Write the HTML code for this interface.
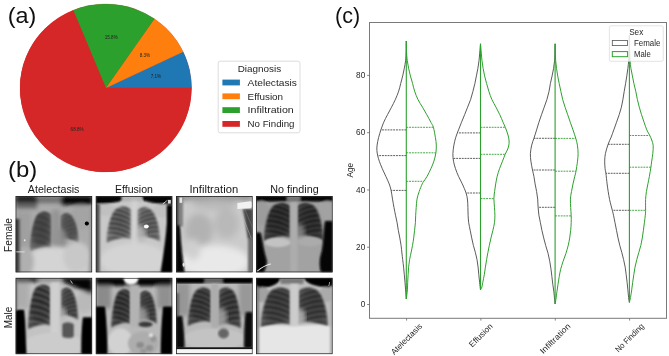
<!DOCTYPE html>
<html><head><meta charset="utf-8"><style>
html,body{margin:0;padding:0;background:#fff;}
body{width:669px;height:356px;position:relative;overflow:hidden;font-family:"Liberation Sans", sans-serif;}
</style></head><body>
<svg width="669" height="356" viewBox="0 0 669 356" style="position:absolute;left:0;top:0;will-change:transform;filter:blur(0.35px)" font-family='"Liberation Sans", sans-serif'>
<defs>
<filter id="bl" x="-5%" y="-5%" width="110%" height="110%"><feGaussianBlur stdDeviation="1.1"/></filter>
<filter id="bl2" x="-5%" y="-5%" width="110%" height="110%"><feGaussianBlur stdDeviation="0.6"/></filter>
</defs>
<ellipse cx="105.75" cy="88.0" rx="85.75" ry="84.0" fill="#d62728"/><path d="M105.75,88.00 L191.50,88.00 A85.75,84.0 0 0 0 183.11,51.76 Z" fill="#1f77b4" stroke="#1f77b4" stroke-width="0.3" stroke-linejoin="round"/><text x="155.93" y="78.45" font-size="4.6" text-anchor="middle" fill="#222">7.1%</text><path d="M105.75,88.00 L183.11,51.76 A85.75,84.0 0 0 0 154.39,18.82 Z" fill="#ff7f0e" stroke="#ff7f0e" stroke-width="0.3" stroke-linejoin="round"/><text x="144.87" y="56.87" font-size="4.6" text-anchor="middle" fill="#222">8.3%</text><path d="M105.75,88.00 L154.39,18.82 A85.75,84.0 0 0 0 73.18,10.29 Z" fill="#2ca02c" stroke="#2ca02c" stroke-width="0.3" stroke-linejoin="round"/><text x="111.24" y="39.49" font-size="4.6" text-anchor="middle" fill="#222">15.8%</text><path d="M105.75,88.00 L73.18,10.29 A85.75,84.0 0 1 0 191.50,88.00 Z" fill="#d62728" stroke="#d62728" stroke-width="0.3" stroke-linejoin="round"/><text x="77.10" y="131.46" font-size="4.6" text-anchor="middle" fill="#222">68.8%</text>
<rect x="218.2" y="61.2" width="81.8" height="71.6" rx="2" fill="#fff" stroke="#d4d4d4" stroke-width="0.8"/>
<text x="259.4" y="72.2" font-size="9.8" text-anchor="middle" fill="#262626" textLength="43.5" lengthAdjust="spacingAndGlyphs">Diagnosis</text>
<rect x="222.4" y="79.6" width="17.5" height="5.8" fill="#1f77b4"/>
<rect x="222.4" y="93.4" width="17.5" height="5.8" fill="#ff7f0e"/>
<rect x="222.4" y="107.2" width="17.5" height="5.8" fill="#2ca02c"/>
<rect x="222.4" y="121.0" width="17.5" height="5.8" fill="#d62728"/>
<text x="247.6" y="85.7" font-size="9.8" fill="#262626" textLength="49.3" lengthAdjust="spacingAndGlyphs">Atelectasis</text>
<text x="247.6" y="99.5" font-size="9.8" fill="#262626" textLength="35.5" lengthAdjust="spacingAndGlyphs">Effusion</text>
<text x="247.6" y="113.3" font-size="9.8" fill="#262626" textLength="46.2" lengthAdjust="spacingAndGlyphs">Infiltration</text>
<text x="247.6" y="127.1" font-size="9.8" fill="#262626" textLength="46.9" lengthAdjust="spacingAndGlyphs">No Finding</text>
<text x="7.8" y="23.4" font-size="21.5" fill="#111" textLength="28.6" lengthAdjust="spacingAndGlyphs">(a)</text>
<text x="8.1" y="176.6" font-size="21.5" fill="#111" textLength="29.2" lengthAdjust="spacingAndGlyphs">(b)</text>
<text x="335" y="23.4" font-size="21.5" fill="#111">(c)</text>
<text x="53.65" y="192.8" font-size="10.6" text-anchor="middle" fill="#1a1a1a" textLength="51.6" lengthAdjust="spacingAndGlyphs">Atelectasis</text>
<text x="133.95" y="192.8" font-size="10.6" text-anchor="middle" fill="#1a1a1a" textLength="38" lengthAdjust="spacingAndGlyphs">Effusion</text>
<text x="213.8" y="192.8" font-size="10.6" text-anchor="middle" fill="#1a1a1a" textLength="48.7" lengthAdjust="spacingAndGlyphs">Infiltration</text>
<text x="294.4" y="192.8" font-size="10.6" text-anchor="middle" fill="#1a1a1a" textLength="48.5" lengthAdjust="spacingAndGlyphs">No finding</text>
<text transform="translate(12.2,235) rotate(-90)" font-size="10.3" text-anchor="middle" fill="#1a1a1a" textLength="34" lengthAdjust="spacingAndGlyphs">Female</text>
<text transform="translate(12.2,317.4) rotate(-90)" font-size="10.3" text-anchor="middle" fill="#1a1a1a" textLength="21.5" lengthAdjust="spacingAndGlyphs">Male</text>
<svg x="15.5" y="196.0" width="76.7" height="76.4" viewBox="0 0 100 100" preserveAspectRatio="none"><defs><filter id="xf00_0" x="-10%" y="-10%" width="120%" height="120%"><feGaussianBlur stdDeviation="0.7"/></filter><filter id="xf00_1" x="-10%" y="-10%" width="120%" height="120%"><feGaussianBlur stdDeviation="1.6"/></filter><filter id="xf00_2" x="-10%" y="-10%" width="120%" height="120%"><feGaussianBlur stdDeviation="2.8"/></filter><filter id="xf00_3" x="-10%" y="-10%" width="120%" height="120%"><feGaussianBlur stdDeviation="4.0"/></filter><filter id="xf00_gm" x="0" y="0" width="100%" height="100%" color-interpolation-filters="sRGB"><feComponentTransfer><feFuncR type="gamma" amplitude="1" exponent="1.3" offset="0"/><feFuncG type="gamma" amplitude="1" exponent="1.3" offset="0"/><feFuncB type="gamma" amplitude="1" exponent="1.3" offset="0"/></feComponentTransfer></filter></defs><g filter="url(#xf00_gm)"><rect x="-5" y="-5" width="110" height="110" fill="rgb(188,188,188)" fill-opacity="1"/><g filter="url(#xf00_2)"><rect x="0" y="0" width="100" height="8" fill="rgb(35,35,35)" fill-opacity="1"/><rect x="60" y="0" width="40" height="11" fill="rgb(14,14,14)" fill-opacity="1"/><rect x="28" y="0" width="32" height="7" fill="rgb(140,140,140)" fill-opacity="1"/><rect x="0" y="8" width="28" height="8" fill="rgb(120,120,120)" fill-opacity="1"/><ellipse cx="86" cy="28" rx="15" ry="16" fill="rgb(182,182,182)" fill-opacity="1"/><rect x="0" y="20" width="20" height="50" fill="rgb(178,178,178)" fill-opacity="1"/></g><g filter="url(#xf00_1)"><defs><radialGradient id="gl00" cx="0.55" cy="0.4" r="0.62"><stop offset="0" stop-color="rgb(83,83,83)"/><stop offset="0.65" stop-color="rgb(92,92,92)"/><stop offset="1" stop-color="rgb(122,122,122)"/></radialGradient><radialGradient id="gr00" cx="0.55" cy="0.4" r="0.62"><stop offset="0" stop-color="rgb(93,93,93)"/><stop offset="0.65" stop-color="rgb(102,102,102)"/><stop offset="1" stop-color="rgb(132,132,132)"/></radialGradient><clipPath id="cl00"><path d="M47,25 C41.4,18 30.759999999999998,18 25.72,29 C21.240000000000002,40.519999999999996 18.16,62.12 19,74 C28.799999999999997,68 40.0,66 47,69 Z"/></clipPath><clipPath id="cr00"><path d="M58,27 C62.8,20 71.92,20 76.24,31 C80.08,37.2 82.72,53.2 82,62 C73.6,56 64.0,54 58,57 Z"/></clipPath></defs><path d="M47,25 C41.4,18 30.759999999999998,18 25.72,29 C21.240000000000002,40.519999999999996 18.16,62.12 19,74 C28.799999999999997,68 40.0,66 47,69 Z" fill="url(#gl00)"/><path d="M58,27 C62.8,20 71.92,20 76.24,31 C80.08,37.2 82.72,53.2 82,62 C73.6,56 64.0,54 58,57 Z" fill="url(#gr00)"/><g clip-path="url(#cl00)"><path d="M17,22.0 Q31.4,18.0 49,31.0" stroke="rgb(190,190,190)" stroke-opacity="0.16" stroke-width="2.2" fill="none"/><path d="M17,30.4 Q31.4,26.4 49,39.4" stroke="rgb(190,190,190)" stroke-opacity="0.16" stroke-width="2.2" fill="none"/><path d="M17,38.8 Q31.4,34.8 49,47.8" stroke="rgb(190,190,190)" stroke-opacity="0.16" stroke-width="2.2" fill="none"/><path d="M17,47.2 Q31.4,43.2 49,56.2" stroke="rgb(190,190,190)" stroke-opacity="0.16" stroke-width="2.2" fill="none"/><path d="M17,55.6 Q31.4,51.6 49,64.6" stroke="rgb(190,190,190)" stroke-opacity="0.16" stroke-width="2.2" fill="none"/><path d="M17,64.0 Q31.4,60.0 49,73.0" stroke="rgb(190,190,190)" stroke-opacity="0.16" stroke-width="2.2" fill="none"/></g><g clip-path="url(#cr00)"><path d="M84,24.0 Q71.4,20.0 56,33.0" stroke="rgb(190,190,190)" stroke-opacity="0.16" stroke-width="2.2" fill="none"/><path d="M84,29.6 Q71.4,25.6 56,38.6" stroke="rgb(190,190,190)" stroke-opacity="0.16" stroke-width="2.2" fill="none"/><path d="M84,35.2 Q71.4,31.200000000000003 56,44.2" stroke="rgb(190,190,190)" stroke-opacity="0.16" stroke-width="2.2" fill="none"/><path d="M84,40.8 Q71.4,36.8 56,49.8" stroke="rgb(190,190,190)" stroke-opacity="0.16" stroke-width="2.2" fill="none"/><path d="M84,46.4 Q71.4,42.4 56,55.4" stroke="rgb(190,190,190)" stroke-opacity="0.16" stroke-width="2.2" fill="none"/><path d="M84,52.0 Q71.4,48.0 56,61.0" stroke="rgb(190,190,190)" stroke-opacity="0.16" stroke-width="2.2" fill="none"/></g></g><g filter="url(#xf00_2)"><ellipse cx="58" cy="56" rx="9" ry="14" fill="rgb(160,160,160)" fill-opacity="0.85"/></g><g filter="url(#xf00_2)"><rect x="47" y="18" width="11" height="48" fill="rgb(168,168,168)" fill-opacity="1"/><ellipse cx="50" cy="92" rx="46" ry="26" fill="rgb(222,222,222)" fill-opacity="1"/><ellipse cx="80" cy="80" rx="18" ry="20" fill="rgb(212,212,212)" fill-opacity="1"/><ellipse cx="12" cy="86" rx="12" ry="20" fill="rgb(192,192,192)" fill-opacity="1"/></g><g filter="url(#xf00_1)"><rect x="0" y="30" width="3" height="70" fill="rgb(30,30,30)" fill-opacity="1"/><rect x="3" y="30" width="3" height="70" fill="rgb(120,120,120)" fill-opacity="1"/><rect x="96.5" y="14" width="3.5" height="86" fill="rgb(172,172,172)" fill-opacity="1"/></g><g filter="url(#xf00_0)"><ellipse cx="93" cy="36" rx="2.6" ry="2.6" fill="rgb(0,0,0)" fill-opacity="1"/><ellipse cx="12" cy="58" rx="1.2" ry="1.5" fill="rgb(235,235,235)" fill-opacity="1"/><rect x="0" y="72.5" width="12" height="1.3" fill="rgb(230,230,230)" fill-opacity="1"/></g></g><rect x="0.5" y="0.5" width="99" height="99" fill="none" stroke="#222" stroke-width="1.1"/></svg><svg x="95.7" y="196.0" width="76.7" height="76.4" viewBox="0 0 100 100" preserveAspectRatio="none"><defs><filter id="xf01_0" x="-10%" y="-10%" width="120%" height="120%"><feGaussianBlur stdDeviation="0.7"/></filter><filter id="xf01_1" x="-10%" y="-10%" width="120%" height="120%"><feGaussianBlur stdDeviation="1.6"/></filter><filter id="xf01_2" x="-10%" y="-10%" width="120%" height="120%"><feGaussianBlur stdDeviation="2.8"/></filter><filter id="xf01_3" x="-10%" y="-10%" width="120%" height="120%"><feGaussianBlur stdDeviation="4.0"/></filter><filter id="xf01_gm" x="0" y="0" width="100%" height="100%" color-interpolation-filters="sRGB"><feComponentTransfer><feFuncR type="gamma" amplitude="1" exponent="1.3" offset="0"/><feFuncG type="gamma" amplitude="1" exponent="1.3" offset="0"/><feFuncB type="gamma" amplitude="1" exponent="1.3" offset="0"/></feComponentTransfer></filter></defs><g filter="url(#xf01_gm)"><rect x="-5" y="-5" width="110" height="110" fill="rgb(212,212,212)" fill-opacity="1"/><g filter="url(#xf01_1)"><path d="M0,0 H100 V13 C90,12 75,9 62,6 L60,0 L38,0 L34,6 C25,9 10,11 0,10 Z" fill="rgb(8,8,8)" fill-opacity="1"/><rect x="34" y="0" width="26" height="7" fill="rgb(195,195,195)" fill-opacity="1"/><ellipse cx="12" cy="18" rx="14" ry="8" fill="rgb(205,205,205)" fill-opacity="1"/><ellipse cx="88" cy="19" rx="14" ry="9" fill="rgb(205,205,205)" fill-opacity="1"/></g><g filter="url(#xf01_1)"><defs><radialGradient id="gl01" cx="0.55" cy="0.4" r="0.62"><stop offset="0" stop-color="rgb(81,81,81)"/><stop offset="0.65" stop-color="rgb(92,92,92)"/><stop offset="1" stop-color="rgb(127,127,127)"/></radialGradient><radialGradient id="gr01" cx="0.55" cy="0.4" r="0.62"><stop offset="0" stop-color="rgb(85,85,85)"/><stop offset="0.65" stop-color="rgb(96,96,96)"/><stop offset="1" stop-color="rgb(131,131,131)"/></radialGradient><clipPath id="cl01"><path d="M47,18 C40.4,11 27.86,11 21.92,22 C16.64,31.62 13.01,51.22 14,62 C25.549999999999997,56 38.75,54 47,57 Z"/></clipPath><clipPath id="cr01"><path d="M53,19 C59.2,12 70.98,12 76.56,23 C81.52,31.48 84.93,49.88 84,60 C73.15,54 60.75,52 53,55 Z"/></clipPath></defs><path d="M47,18 C40.4,11 27.86,11 21.92,22 C16.64,31.62 13.01,51.22 14,62 C25.549999999999997,56 38.75,54 47,57 Z" fill="url(#gl01)"/><path d="M53,19 C59.2,12 70.98,12 76.56,23 C81.52,31.48 84.93,49.88 84,60 C73.15,54 60.75,52 53,55 Z" fill="url(#gr01)"/><g clip-path="url(#cl01)"><path d="M12,15.0 Q28.650000000000002,11.0 49,24.0" stroke="rgb(215,215,215)" stroke-opacity="0.42" stroke-width="2.4" fill="none"/><path d="M12,21.166666666666668 Q28.650000000000002,17.166666666666668 49,30.166666666666668" stroke="rgb(215,215,215)" stroke-opacity="0.42" stroke-width="2.4" fill="none"/><path d="M12,27.333333333333336 Q28.650000000000002,23.333333333333336 49,36.333333333333336" stroke="rgb(215,215,215)" stroke-opacity="0.42" stroke-width="2.4" fill="none"/><path d="M12,33.5 Q28.650000000000002,29.5 49,42.5" stroke="rgb(215,215,215)" stroke-opacity="0.42" stroke-width="2.4" fill="none"/><path d="M12,39.66666666666667 Q28.650000000000002,35.66666666666667 49,48.66666666666667" stroke="rgb(215,215,215)" stroke-opacity="0.42" stroke-width="2.4" fill="none"/><path d="M12,45.83333333333333 Q28.650000000000002,41.83333333333333 49,54.83333333333333" stroke="rgb(215,215,215)" stroke-opacity="0.42" stroke-width="2.4" fill="none"/><path d="M12,52.0 Q28.650000000000002,48.0 49,61.0" stroke="rgb(215,215,215)" stroke-opacity="0.42" stroke-width="2.4" fill="none"/></g><g clip-path="url(#cr01)"><path d="M86,16.0 Q70.25,12.0 51,25.0" stroke="rgb(215,215,215)" stroke-opacity="0.42" stroke-width="2.4" fill="none"/><path d="M86,21.666666666666668 Q70.25,17.666666666666668 51,30.666666666666668" stroke="rgb(215,215,215)" stroke-opacity="0.42" stroke-width="2.4" fill="none"/><path d="M86,27.333333333333336 Q70.25,23.333333333333336 51,36.333333333333336" stroke="rgb(215,215,215)" stroke-opacity="0.42" stroke-width="2.4" fill="none"/><path d="M86,33.0 Q70.25,29.0 51,42.0" stroke="rgb(215,215,215)" stroke-opacity="0.42" stroke-width="2.4" fill="none"/><path d="M86,38.66666666666667 Q70.25,34.66666666666667 51,47.66666666666667" stroke="rgb(215,215,215)" stroke-opacity="0.42" stroke-width="2.4" fill="none"/><path d="M86,44.33333333333333 Q70.25,40.33333333333333 51,53.33333333333333" stroke="rgb(215,215,215)" stroke-opacity="0.42" stroke-width="2.4" fill="none"/><path d="M86,50.0 Q70.25,46.0 51,59.0" stroke="rgb(215,215,215)" stroke-opacity="0.42" stroke-width="2.4" fill="none"/></g><path d="M47,18 C40.4,11 27.86,11 21.92,22 C16.64,31.62 13.01,51.22 14,62 C25.549999999999997,56 38.75,54 47,57 Z" fill="none" stroke="rgb(215,215,215)" stroke-width="1.6" stroke-opacity="0.6"/><path d="M53,19 C59.2,12 70.98,12 76.56,23 C81.52,31.48 84.93,49.88 84,60 C73.15,54 60.75,52 53,55 Z" fill="none" stroke="rgb(215,215,215)" stroke-width="1.6" stroke-opacity="0.6"/></g><g filter="url(#xf01_2)"><ellipse cx="58" cy="50" rx="8" ry="12" fill="rgb(200,200,200)" fill-opacity="0.8"/></g><g filter="url(#xf01_2)"><rect x="47" y="6" width="7" height="94" fill="rgb(222,222,222)" fill-opacity="1"/><ellipse cx="50" cy="84" rx="44" ry="22" fill="rgb(222,222,222)" fill-opacity="1"/></g><g filter="url(#xf01_1)"><path d="M93,12 L100,12 L100,100 L85,100 C88,80 92,55 93,35 Z" fill="rgb(6,6,6)" fill-opacity="1"/><rect x="0" y="10" width="2.5" height="90" fill="rgb(25,25,25)" fill-opacity="1"/><rect x="2.5" y="10" width="3" height="90" fill="rgb(125,125,125)" fill-opacity="1"/></g><g filter="url(#xf01_0)"><ellipse cx="66" cy="40" rx="3.2" ry="2.6" fill="rgb(250,250,250)" fill-opacity="1"/><path d="M88,10 L93,6" fill="none" stroke="rgb(235,235,235)" stroke-width="1.2" stroke-opacity="1" stroke-linecap="round"/><rect x="94" y="5" width="4" height="5" fill="rgb(225,225,225)" fill-opacity="1"/></g></g><rect x="0.5" y="0.5" width="99" height="99" fill="none" stroke="#222" stroke-width="1.1"/></svg><svg x="176.0" y="196.0" width="76.7" height="76.4" viewBox="0 0 100 100" preserveAspectRatio="none"><defs><filter id="xf02_0" x="-10%" y="-10%" width="120%" height="120%"><feGaussianBlur stdDeviation="0.7"/></filter><filter id="xf02_1" x="-10%" y="-10%" width="120%" height="120%"><feGaussianBlur stdDeviation="1.6"/></filter><filter id="xf02_2" x="-10%" y="-10%" width="120%" height="120%"><feGaussianBlur stdDeviation="2.8"/></filter><filter id="xf02_3" x="-10%" y="-10%" width="120%" height="120%"><feGaussianBlur stdDeviation="4.0"/></filter><filter id="xf02_gm" x="0" y="0" width="100%" height="100%" color-interpolation-filters="sRGB"><feComponentTransfer><feFuncR type="gamma" amplitude="1" exponent="1.3" offset="0"/><feFuncG type="gamma" amplitude="1" exponent="1.3" offset="0"/><feFuncB type="gamma" amplitude="1" exponent="1.3" offset="0"/></feComponentTransfer></filter></defs><g filter="url(#xf02_gm)"><rect x="-5" y="-5" width="110" height="110" fill="rgb(214,214,214)" fill-opacity="1"/><g filter="url(#xf02_3)"><rect x="0" y="0" width="100" height="3" fill="rgb(70,70,70)" fill-opacity="1"/><ellipse cx="30" cy="45" rx="18" ry="22" fill="rgb(194,194,194)" fill-opacity="1"/><ellipse cx="66" cy="36" rx="16" ry="20" fill="rgb(200,200,200)" fill-opacity="1"/><ellipse cx="50" cy="10" rx="30" ry="8" fill="rgb(200,200,200)" fill-opacity="1"/><ellipse cx="50" cy="86" rx="46" ry="22" fill="rgb(238,238,238)" fill-opacity="1"/><ellipse cx="22" cy="70" rx="10" ry="14" fill="rgb(218,218,218)" fill-opacity="1"/></g><g filter="url(#xf02_1)"><rect x="0" y="0" width="3" height="100" fill="rgb(35,35,35)" fill-opacity="1"/><rect x="3" y="0" width="6" height="40" fill="rgb(150,150,150)" fill-opacity="1"/><path d="M0,38 L5,38 C6,60 8,80 11,100 L0,100 Z" fill="rgb(12,12,12)" fill-opacity="1"/></g><g filter="url(#xf02_1)"><path d="M87,17 L100,17 L100,58 L94,58 C92,45 90,30 87,17 Z" fill="rgb(95,95,95)" fill-opacity="1"/><rect x="94" y="55" width="6" height="45" fill="rgb(130,130,130)" fill-opacity="1"/></g><g filter="url(#xf02_0)"><rect x="4.5" y="2" width="3.5" height="7" fill="rgb(235,235,235)" fill-opacity="1"/><path d="M80,9 L97,7 C100,7 100,16 97,16 L80,17 Z" fill="rgb(245,245,245)" fill-opacity="1"/><path d="M84,19 L98,55" fill="none" stroke="rgb(200,200,200)" stroke-width="0.9" stroke-opacity="0.8" stroke-linecap="round"/><path d="M90,18 L100,42" fill="none" stroke="rgb(185,185,185)" stroke-width="0.7" stroke-opacity="0.6" stroke-linecap="round"/><ellipse cx="10" cy="90" rx="1.5" ry="2.5" fill="rgb(235,235,235)" fill-opacity="1"/></g></g><rect x="0.5" y="0.5" width="99" height="99" fill="none" stroke="#222" stroke-width="1.1"/></svg><svg x="256.0" y="196.0" width="76.7" height="76.4" viewBox="0 0 100 100" preserveAspectRatio="none"><defs><filter id="xf03_0" x="-10%" y="-10%" width="120%" height="120%"><feGaussianBlur stdDeviation="0.7"/></filter><filter id="xf03_1" x="-10%" y="-10%" width="120%" height="120%"><feGaussianBlur stdDeviation="1.6"/></filter><filter id="xf03_2" x="-10%" y="-10%" width="120%" height="120%"><feGaussianBlur stdDeviation="2.8"/></filter><filter id="xf03_3" x="-10%" y="-10%" width="120%" height="120%"><feGaussianBlur stdDeviation="4.0"/></filter><filter id="xf03_gm" x="0" y="0" width="100%" height="100%" color-interpolation-filters="sRGB"><feComponentTransfer><feFuncR type="gamma" amplitude="1" exponent="1.3" offset="0"/><feFuncG type="gamma" amplitude="1" exponent="1.3" offset="0"/><feFuncB type="gamma" amplitude="1" exponent="1.3" offset="0"/></feComponentTransfer></filter></defs><g filter="url(#xf03_gm)"><rect x="-5" y="-5" width="110" height="110" fill="rgb(180,180,180)" fill-opacity="1"/><g filter="url(#xf03_1)"><rect x="0" y="0" width="100" height="7" fill="rgb(8,8,8)" fill-opacity="1"/><rect x="40" y="0" width="18" height="8" fill="rgb(140,140,140)" fill-opacity="1"/><ellipse cx="7" cy="22" rx="10" ry="16" fill="rgb(175,175,175)" fill-opacity="1"/><ellipse cx="93" cy="20" rx="10" ry="14" fill="rgb(180,180,180)" fill-opacity="1"/></g><g filter="url(#xf03_1)"><defs><radialGradient id="gl03" cx="0.55" cy="0.4" r="0.62"><stop offset="0" stop-color="rgb(43,43,43)"/><stop offset="0.65" stop-color="rgb(52,52,52)"/><stop offset="1" stop-color="rgb(82,82,82)"/></radialGradient><radialGradient id="gr03" cx="0.55" cy="0.4" r="0.62"><stop offset="0" stop-color="rgb(45,45,45)"/><stop offset="0.65" stop-color="rgb(54,54,54)"/><stop offset="1" stop-color="rgb(84,84,84)"/></radialGradient><clipPath id="cl03"><path d="M45,13 C38.0,6 24.7,6 18.4,17 C12.8,27.76 8.95,48.56 10,60 C22.25,54 36.25,52 45,55 Z"/></clipPath><clipPath id="cr03"><path d="M53,13 C60.0,6 73.3,6 79.6,17 C85.2,27.38 89.05,47.78 88,59 C75.75,53 61.75,51 53,54 Z"/></clipPath></defs><path d="M45,13 C38.0,6 24.7,6 18.4,17 C12.8,27.76 8.95,48.56 10,60 C22.25,54 36.25,52 45,55 Z" fill="url(#gl03)"/><path d="M53,13 C60.0,6 73.3,6 79.6,17 C85.2,27.38 89.05,47.78 88,59 C75.75,53 61.75,51 53,54 Z" fill="url(#gr03)"/><g clip-path="url(#cl03)"><path d="M8,10.0 Q25.55,6.0 47,19.0" stroke="rgb(170,170,170)" stroke-opacity="0.35" stroke-width="2.2" fill="none"/><path d="M8,16.666666666666668 Q25.55,12.666666666666668 47,25.666666666666668" stroke="rgb(170,170,170)" stroke-opacity="0.35" stroke-width="2.2" fill="none"/><path d="M8,23.333333333333336 Q25.55,19.333333333333336 47,32.333333333333336" stroke="rgb(170,170,170)" stroke-opacity="0.35" stroke-width="2.2" fill="none"/><path d="M8,30.0 Q25.55,26.0 47,39.0" stroke="rgb(170,170,170)" stroke-opacity="0.35" stroke-width="2.2" fill="none"/><path d="M8,36.66666666666667 Q25.55,32.66666666666667 47,45.66666666666667" stroke="rgb(170,170,170)" stroke-opacity="0.35" stroke-width="2.2" fill="none"/><path d="M8,43.333333333333336 Q25.55,39.333333333333336 47,52.333333333333336" stroke="rgb(170,170,170)" stroke-opacity="0.35" stroke-width="2.2" fill="none"/><path d="M8,50.0 Q25.55,46.0 47,59.0" stroke="rgb(170,170,170)" stroke-opacity="0.35" stroke-width="2.2" fill="none"/></g><g clip-path="url(#cr03)"><path d="M90,10.0 Q72.45,6.0 51,19.0" stroke="rgb(170,170,170)" stroke-opacity="0.35" stroke-width="2.2" fill="none"/><path d="M90,16.5 Q72.45,12.5 51,25.5" stroke="rgb(170,170,170)" stroke-opacity="0.35" stroke-width="2.2" fill="none"/><path d="M90,23.0 Q72.45,19.0 51,32.0" stroke="rgb(170,170,170)" stroke-opacity="0.35" stroke-width="2.2" fill="none"/><path d="M90,29.5 Q72.45,25.5 51,38.5" stroke="rgb(170,170,170)" stroke-opacity="0.35" stroke-width="2.2" fill="none"/><path d="M90,36.0 Q72.45,32.0 51,45.0" stroke="rgb(170,170,170)" stroke-opacity="0.35" stroke-width="2.2" fill="none"/><path d="M90,42.5 Q72.45,38.5 51,51.5" stroke="rgb(170,170,170)" stroke-opacity="0.35" stroke-width="2.2" fill="none"/><path d="M90,49.0 Q72.45,45.0 51,58.0" stroke="rgb(170,170,170)" stroke-opacity="0.35" stroke-width="2.2" fill="none"/></g><path d="M45,13 C38.0,6 24.7,6 18.4,17 C12.8,27.76 8.95,48.56 10,60 C22.25,54 36.25,52 45,55 Z" fill="none" stroke="rgb(190,190,190)" stroke-width="1.6" stroke-opacity="0.6"/><path d="M53,13 C60.0,6 73.3,6 79.6,17 C85.2,27.38 89.05,47.78 88,59 C75.75,53 61.75,51 53,54 Z" fill="none" stroke="rgb(190,190,190)" stroke-width="1.6" stroke-opacity="0.6"/></g><g filter="url(#xf03_2)"><ellipse cx="57" cy="48" rx="7" ry="12" fill="rgb(170,170,170)" fill-opacity="0.7"/></g><g filter="url(#xf03_1)"><rect x="45" y="8" width="9" height="92" fill="rgb(190,190,190)" fill-opacity="1"/><ellipse cx="28" cy="61" rx="17" ry="6" fill="rgb(208,208,208)" fill-opacity="1"/><ellipse cx="70" cy="60" rx="16" ry="6" fill="rgb(188,188,188)" fill-opacity="1"/></g><g filter="url(#xf03_1)"><path d="M0,48 L6,48 C9,62 10,72 14,85 C14,92 11,97 10,100 L0,100 Z" fill="rgb(8,8,8)" fill-opacity="1"/><path d="M100,33 L90,33 C88,50 88,62 86,72 C83,82 82,90 85,100 L100,100 Z" fill="rgb(8,8,8)" fill-opacity="1"/></g><g filter="url(#xf03_0)"><path d="M2,98 C8,93 14,90 19,89" fill="none" stroke="rgb(240,240,240)" stroke-width="1.4" stroke-opacity="1" stroke-linecap="round"/></g></g><rect x="0.5" y="0.5" width="99" height="99" fill="none" stroke="#222" stroke-width="1.1"/></svg><svg x="15.5" y="277.8" width="76.7" height="76.4" viewBox="0 0 100 100" preserveAspectRatio="none"><defs><filter id="xf10_0" x="-10%" y="-10%" width="120%" height="120%"><feGaussianBlur stdDeviation="0.7"/></filter><filter id="xf10_1" x="-10%" y="-10%" width="120%" height="120%"><feGaussianBlur stdDeviation="1.6"/></filter><filter id="xf10_2" x="-10%" y="-10%" width="120%" height="120%"><feGaussianBlur stdDeviation="2.8"/></filter><filter id="xf10_3" x="-10%" y="-10%" width="120%" height="120%"><feGaussianBlur stdDeviation="4.0"/></filter><filter id="xf10_gm" x="0" y="0" width="100%" height="100%" color-interpolation-filters="sRGB"><feComponentTransfer><feFuncR type="gamma" amplitude="1" exponent="1.3" offset="0"/><feFuncG type="gamma" amplitude="1" exponent="1.3" offset="0"/><feFuncB type="gamma" amplitude="1" exponent="1.3" offset="0"/></feComponentTransfer></filter></defs><g filter="url(#xf10_gm)"><rect x="-5" y="-5" width="110" height="110" fill="rgb(208,208,208)" fill-opacity="1"/><g filter="url(#xf10_2)"><rect x="0" y="0" width="30" height="5" fill="rgb(10,10,10)" fill-opacity="1"/><path d="M58,0 L100,0 L100,22 C90,18 75,10 62,5 Z" fill="rgb(8,8,8)" fill-opacity="1"/><rect x="30" y="0" width="28" height="5" fill="rgb(150,150,150)" fill-opacity="1"/><rect x="0" y="5" width="18" height="36" fill="rgb(190,190,190)" fill-opacity="1"/><ellipse cx="90" cy="32" rx="12" ry="14" fill="rgb(200,200,200)" fill-opacity="1"/></g><g filter="url(#xf10_1)"><defs><radialGradient id="gl10" cx="0.55" cy="0.4" r="0.62"><stop offset="0" stop-color="rgb(61,61,61)"/><stop offset="0.65" stop-color="rgb(70,70,70)"/><stop offset="1" stop-color="rgb(100,100,100)"/></radialGradient><radialGradient id="gr10" cx="0.55" cy="0.4" r="0.62"><stop offset="0" stop-color="rgb(65,65,65)"/><stop offset="0.65" stop-color="rgb(74,74,74)"/><stop offset="1" stop-color="rgb(104,104,104)"/></radialGradient><clipPath id="cl10"><path d="M46,13 C40.0,6 28.6,6 23.2,17 C18.4,30.8 15.1,54.8 16,68 C26.5,62 38.5,60 46,63 Z"/></clipPath><clipPath id="cr10"><path d="M59,17 C63.6,10 72.34,10 76.48,21 C80.16,28.72 82.69,46.32 82,56 C73.95,50 64.75,48 59,51 Z"/></clipPath></defs><path d="M46,13 C40.0,6 28.6,6 23.2,17 C18.4,30.8 15.1,54.8 16,68 C26.5,62 38.5,60 46,63 Z" fill="url(#gl10)"/><path d="M59,17 C63.6,10 72.34,10 76.48,21 C80.16,28.72 82.69,46.32 82,56 C73.95,50 64.75,48 59,51 Z" fill="url(#gr10)"/><g clip-path="url(#cl10)"><path d="M14,10.0 Q29.3,6.0 48,19.0" stroke="rgb(205,205,205)" stroke-opacity="0.35" stroke-width="2.2" fill="none"/><path d="M14,18.0 Q29.3,14.0 48,27.0" stroke="rgb(205,205,205)" stroke-opacity="0.35" stroke-width="2.2" fill="none"/><path d="M14,26.0 Q29.3,22.0 48,35.0" stroke="rgb(205,205,205)" stroke-opacity="0.35" stroke-width="2.2" fill="none"/><path d="M14,34.0 Q29.3,30.0 48,43.0" stroke="rgb(205,205,205)" stroke-opacity="0.35" stroke-width="2.2" fill="none"/><path d="M14,42.0 Q29.3,38.0 48,51.0" stroke="rgb(205,205,205)" stroke-opacity="0.35" stroke-width="2.2" fill="none"/><path d="M14,50.0 Q29.3,46.0 48,59.0" stroke="rgb(205,205,205)" stroke-opacity="0.35" stroke-width="2.2" fill="none"/><path d="M14,58.0 Q29.3,54.0 48,67.0" stroke="rgb(205,205,205)" stroke-opacity="0.35" stroke-width="2.2" fill="none"/></g><g clip-path="url(#cr10)"><path d="M84,14.0 Q71.85,10.0 57,23.0" stroke="rgb(205,205,205)" stroke-opacity="0.35" stroke-width="2.2" fill="none"/><path d="M84,19.333333333333332 Q71.85,15.333333333333332 57,28.333333333333332" stroke="rgb(205,205,205)" stroke-opacity="0.35" stroke-width="2.2" fill="none"/><path d="M84,24.666666666666664 Q71.85,20.666666666666664 57,33.666666666666664" stroke="rgb(205,205,205)" stroke-opacity="0.35" stroke-width="2.2" fill="none"/><path d="M84,30.0 Q71.85,26.0 57,39.0" stroke="rgb(205,205,205)" stroke-opacity="0.35" stroke-width="2.2" fill="none"/><path d="M84,35.33333333333333 Q71.85,31.33333333333333 57,44.33333333333333" stroke="rgb(205,205,205)" stroke-opacity="0.35" stroke-width="2.2" fill="none"/><path d="M84,40.66666666666667 Q71.85,36.66666666666667 57,49.66666666666667" stroke="rgb(205,205,205)" stroke-opacity="0.35" stroke-width="2.2" fill="none"/><path d="M84,46.0 Q71.85,42.0 57,55.0" stroke="rgb(205,205,205)" stroke-opacity="0.35" stroke-width="2.2" fill="none"/></g><path d="M46,13 C40.0,6 28.6,6 23.2,17 C18.4,30.8 15.1,54.8 16,68 C26.5,62 38.5,60 46,63 Z" fill="none" stroke="rgb(215,215,215)" stroke-width="1.6" stroke-opacity="0.6"/><path d="M59,17 C63.6,10 72.34,10 76.48,21 C80.16,28.72 82.69,46.32 82,56 C73.95,50 64.75,48 59,51 Z" fill="none" stroke="rgb(215,215,215)" stroke-width="1.6" stroke-opacity="0.6"/></g><g filter="url(#xf10_2)"><ellipse cx="61" cy="48" rx="6" ry="10" fill="rgb(200,200,200)" fill-opacity="0.7"/></g><g filter="url(#xf10_1)"><rect x="46" y="6" width="11" height="94" fill="rgb(218,218,218)" fill-opacity="1"/><ellipse cx="50" cy="88" rx="40" ry="16" fill="rgb(215,215,215)" fill-opacity="1"/></g><g filter="url(#xf10_1)"><path d="M60,62 C60,56 76,56 77,62 L77,76 C77,81 61,81 60,76 Z" fill="rgb(112,112,112)" fill-opacity="1"/><path d="M60,62 C60,56 76,56 77,62 L77,76 C77,81 61,81 60,76 Z" fill="none" stroke="rgb(225,225,225)" stroke-width="1.2"/></g><g filter="url(#xf10_1)"><path d="M0,42 L11,42 C13,60 13,80 14,100 L0,100 Z" fill="rgb(4,4,4)" fill-opacity="1"/><path d="M100,52 L88,52 C86,70 86,85 86,100 L100,100 Z" fill="rgb(4,4,4)" fill-opacity="1"/><rect x="0" y="0" width="2" height="42" fill="rgb(120,120,120)" fill-opacity="1"/></g><g filter="url(#xf10_0)"><path d="M72,4 L74,7" fill="none" stroke="rgb(240,240,240)" stroke-width="1.2" stroke-opacity="1" stroke-linecap="round"/></g></g><rect x="0.5" y="0.5" width="99" height="99" fill="none" stroke="#222" stroke-width="1.1"/></svg><svg x="95.7" y="277.8" width="76.7" height="76.4" viewBox="0 0 100 100" preserveAspectRatio="none"><defs><filter id="xf11_0" x="-10%" y="-10%" width="120%" height="120%"><feGaussianBlur stdDeviation="0.7"/></filter><filter id="xf11_1" x="-10%" y="-10%" width="120%" height="120%"><feGaussianBlur stdDeviation="1.6"/></filter><filter id="xf11_2" x="-10%" y="-10%" width="120%" height="120%"><feGaussianBlur stdDeviation="2.8"/></filter><filter id="xf11_3" x="-10%" y="-10%" width="120%" height="120%"><feGaussianBlur stdDeviation="4.0"/></filter><filter id="xf11_gm" x="0" y="0" width="100%" height="100%" color-interpolation-filters="sRGB"><feComponentTransfer><feFuncR type="gamma" amplitude="1" exponent="1.3" offset="0"/><feFuncG type="gamma" amplitude="1" exponent="1.3" offset="0"/><feFuncB type="gamma" amplitude="1" exponent="1.3" offset="0"/></feComponentTransfer></filter></defs><g filter="url(#xf11_gm)"><rect x="-5" y="-5" width="110" height="110" fill="rgb(200,200,200)" fill-opacity="1"/><g filter="url(#xf11_2)"><rect x="0" y="0" width="100" height="10" fill="rgb(6,6,6)" fill-opacity="1"/><rect x="42" y="8" width="10" height="8" fill="rgb(175,175,175)" fill-opacity="1"/><rect x="0" y="10" width="20" height="30" fill="rgb(160,160,160)" fill-opacity="1"/><rect x="80" y="10" width="20" height="30" fill="rgb(165,165,165)" fill-opacity="1"/></g><g filter="url(#xf11_1)"><ellipse cx="46" cy="1" rx="10" ry="8" fill="rgb(250,250,250)" fill-opacity="1"/></g><g filter="url(#xf11_1)"><defs><radialGradient id="gl11" cx="0.55" cy="0.4" r="0.62"><stop offset="0" stop-color="rgb(51,51,51)"/><stop offset="0.65" stop-color="rgb(60,60,60)"/><stop offset="1" stop-color="rgb(90,90,90)"/></radialGradient><radialGradient id="gr11" cx="0.55" cy="0.4" r="0.62"><stop offset="0" stop-color="rgb(57,57,57)"/><stop offset="0.65" stop-color="rgb(66,66,66)"/><stop offset="1" stop-color="rgb(96,96,96)"/></radialGradient><clipPath id="cl11"><path d="M46,19 C40.8,12 30.92,12 26.240000000000002,23 C22.08,33.760000000000005 19.22,54.56 20,66 C29.1,60 39.5,58 46,61 Z"/></clipPath><clipPath id="cr11"><path d="M57,21 C61.6,14 70.34,14 74.48,25 C78.16,33.1 80.69,51.1 80,61 C71.95,55 62.75,53 57,56 Z"/></clipPath></defs><path d="M46,19 C40.8,12 30.92,12 26.240000000000002,23 C22.08,33.760000000000005 19.22,54.56 20,66 C29.1,60 39.5,58 46,61 Z" fill="url(#gl11)"/><path d="M57,21 C61.6,14 70.34,14 74.48,25 C78.16,33.1 80.69,51.1 80,61 C71.95,55 62.75,53 57,56 Z" fill="url(#gr11)"/><g clip-path="url(#cl11)"><path d="M18,16.0 Q31.5,12.0 48,25.0" stroke="rgb(195,195,195)" stroke-opacity="0.35" stroke-width="2.2" fill="none"/><path d="M18,22.666666666666668 Q31.5,18.666666666666668 48,31.666666666666668" stroke="rgb(195,195,195)" stroke-opacity="0.35" stroke-width="2.2" fill="none"/><path d="M18,29.333333333333336 Q31.5,25.333333333333336 48,38.333333333333336" stroke="rgb(195,195,195)" stroke-opacity="0.35" stroke-width="2.2" fill="none"/><path d="M18,36.0 Q31.5,32.0 48,45.0" stroke="rgb(195,195,195)" stroke-opacity="0.35" stroke-width="2.2" fill="none"/><path d="M18,42.66666666666667 Q31.5,38.66666666666667 48,51.66666666666667" stroke="rgb(195,195,195)" stroke-opacity="0.35" stroke-width="2.2" fill="none"/><path d="M18,49.333333333333336 Q31.5,45.333333333333336 48,58.333333333333336" stroke="rgb(195,195,195)" stroke-opacity="0.35" stroke-width="2.2" fill="none"/><path d="M18,56.0 Q31.5,52.0 48,65.0" stroke="rgb(195,195,195)" stroke-opacity="0.35" stroke-width="2.2" fill="none"/></g><g clip-path="url(#cr11)"><path d="M82,18.0 Q69.85,14.0 55,27.0" stroke="rgb(195,195,195)" stroke-opacity="0.35" stroke-width="2.2" fill="none"/><path d="M82,23.5 Q69.85,19.5 55,32.5" stroke="rgb(195,195,195)" stroke-opacity="0.35" stroke-width="2.2" fill="none"/><path d="M82,29.0 Q69.85,25.0 55,38.0" stroke="rgb(195,195,195)" stroke-opacity="0.35" stroke-width="2.2" fill="none"/><path d="M82,34.5 Q69.85,30.5 55,43.5" stroke="rgb(195,195,195)" stroke-opacity="0.35" stroke-width="2.2" fill="none"/><path d="M82,40.0 Q69.85,36.0 55,49.0" stroke="rgb(195,195,195)" stroke-opacity="0.35" stroke-width="2.2" fill="none"/><path d="M82,45.5 Q69.85,41.5 55,54.5" stroke="rgb(195,195,195)" stroke-opacity="0.35" stroke-width="2.2" fill="none"/><path d="M82,51.0 Q69.85,47.0 55,60.0" stroke="rgb(195,195,195)" stroke-opacity="0.35" stroke-width="2.2" fill="none"/></g><path d="M46,19 C40.8,12 30.92,12 26.240000000000002,23 C22.08,33.760000000000005 19.22,54.56 20,66 C29.1,60 39.5,58 46,61 Z" fill="none" stroke="rgb(205,205,205)" stroke-width="1.6" stroke-opacity="0.6"/><path d="M57,21 C61.6,14 70.34,14 74.48,25 C78.16,33.1 80.69,51.1 80,61 C71.95,55 62.75,53 57,56 Z" fill="none" stroke="rgb(205,205,205)" stroke-width="1.6" stroke-opacity="0.6"/></g><g filter="url(#xf11_2)"><ellipse cx="60" cy="50" rx="8" ry="12" fill="rgb(180,180,180)" fill-opacity="0.8"/></g><g filter="url(#xf11_1)"><rect x="45" y="10" width="11" height="55" fill="rgb(195,195,195)" fill-opacity="1"/><ellipse cx="32" cy="84" rx="16" ry="18" fill="rgb(220,220,220)" fill-opacity="1"/><ellipse cx="62" cy="86" rx="20" ry="16" fill="rgb(190,190,190)" fill-opacity="1"/></g><g filter="url(#xf11_1)"><ellipse cx="65" cy="61" rx="9" ry="3.5" fill="rgb(80,80,80)" fill-opacity="1"/><ellipse cx="58" cy="88" rx="5" ry="4" fill="rgb(160,160,160)" fill-opacity="1"/><ellipse cx="70" cy="92" rx="5" ry="4" fill="rgb(165,165,165)" fill-opacity="1"/><ellipse cx="75" cy="80" rx="4" ry="4" fill="rgb(170,170,170)" fill-opacity="1"/><ellipse cx="62" cy="96" rx="4" ry="3" fill="rgb(170,170,170)" fill-opacity="1"/><ellipse cx="72" cy="75" rx="2.5" ry="2.5" fill="rgb(245,245,245)" fill-opacity="1"/></g><g filter="url(#xf11_1)"><path d="M0,38 L12,38 C14,60 15,80 15,100 L0,100 Z" fill="rgb(5,5,5)" fill-opacity="1"/><path d="M100,38 L88,38 C86,60 85,80 85,100 L100,100 Z" fill="rgb(5,5,5)" fill-opacity="1"/></g></g><rect x="0.5" y="0.5" width="99" height="99" fill="none" stroke="#222" stroke-width="1.1"/></svg><svg x="176.0" y="277.8" width="76.7" height="76.4" viewBox="0 0 100 100" preserveAspectRatio="none"><defs><filter id="xf12_0" x="-10%" y="-10%" width="120%" height="120%"><feGaussianBlur stdDeviation="0.7"/></filter><filter id="xf12_1" x="-10%" y="-10%" width="120%" height="120%"><feGaussianBlur stdDeviation="1.6"/></filter><filter id="xf12_2" x="-10%" y="-10%" width="120%" height="120%"><feGaussianBlur stdDeviation="2.8"/></filter><filter id="xf12_3" x="-10%" y="-10%" width="120%" height="120%"><feGaussianBlur stdDeviation="4.0"/></filter><filter id="xf12_gm" x="0" y="0" width="100%" height="100%" color-interpolation-filters="sRGB"><feComponentTransfer><feFuncR type="gamma" amplitude="1" exponent="1.3" offset="0"/><feFuncG type="gamma" amplitude="1" exponent="1.3" offset="0"/><feFuncB type="gamma" amplitude="1" exponent="1.3" offset="0"/></feComponentTransfer></filter></defs><g filter="url(#xf12_gm)"><rect x="-5" y="-5" width="110" height="110" fill="rgb(200,200,200)" fill-opacity="1"/><g filter="url(#xf12_2)"><rect x="0" y="6" width="18" height="44" fill="rgb(170,170,170)" fill-opacity="1"/><rect x="82" y="6" width="18" height="44" fill="rgb(172,172,172)" fill-opacity="1"/></g><g filter="url(#xf12_1)"><rect x="0" y="0" width="100" height="7" fill="rgb(5,5,5)" fill-opacity="1"/><rect x="37" y="0" width="24" height="7" fill="rgb(125,125,125)" fill-opacity="1"/></g><g filter="url(#xf12_1)"><defs><radialGradient id="gl12" cx="0.55" cy="0.4" r="0.62"><stop offset="0" stop-color="rgb(55,55,55)"/><stop offset="0.65" stop-color="rgb(64,64,64)"/><stop offset="1" stop-color="rgb(94,94,94)"/></radialGradient><radialGradient id="gr12" cx="0.55" cy="0.4" r="0.62"><stop offset="0" stop-color="rgb(59,59,59)"/><stop offset="0.65" stop-color="rgb(68,68,68)"/><stop offset="1" stop-color="rgb(98,98,98)"/></radialGradient><clipPath id="cl12"><path d="M46,17 C39.8,10 28.02,10 22.439999999999998,21 C17.48,31.76 14.07,52.56 15,64 C25.85,58 38.25,56 46,59 Z"/></clipPath><clipPath id="cr12"><path d="M55,17 C61.0,10 72.4,10 77.8,21 C82.6,32.9 85.9,54.9 85,67 C74.5,61 62.5,59 55,62 Z"/></clipPath></defs><path d="M46,17 C39.8,10 28.02,10 22.439999999999998,21 C17.48,31.76 14.07,52.56 15,64 C25.85,58 38.25,56 46,59 Z" fill="url(#gl12)"/><path d="M55,17 C61.0,10 72.4,10 77.8,21 C82.6,32.9 85.9,54.9 85,67 C74.5,61 62.5,59 55,62 Z" fill="url(#gr12)"/><g clip-path="url(#cl12)"><path d="M13,14.0 Q28.75,10.0 48,23.0" stroke="rgb(195,195,195)" stroke-opacity="0.35" stroke-width="2.2" fill="none"/><path d="M13,20.666666666666668 Q28.75,16.666666666666668 48,29.666666666666668" stroke="rgb(195,195,195)" stroke-opacity="0.35" stroke-width="2.2" fill="none"/><path d="M13,27.333333333333336 Q28.75,23.333333333333336 48,36.333333333333336" stroke="rgb(195,195,195)" stroke-opacity="0.35" stroke-width="2.2" fill="none"/><path d="M13,34.0 Q28.75,30.0 48,43.0" stroke="rgb(195,195,195)" stroke-opacity="0.35" stroke-width="2.2" fill="none"/><path d="M13,40.66666666666667 Q28.75,36.66666666666667 48,49.66666666666667" stroke="rgb(195,195,195)" stroke-opacity="0.35" stroke-width="2.2" fill="none"/><path d="M13,47.333333333333336 Q28.75,43.333333333333336 48,56.333333333333336" stroke="rgb(195,195,195)" stroke-opacity="0.35" stroke-width="2.2" fill="none"/><path d="M13,54.0 Q28.75,50.0 48,63.0" stroke="rgb(195,195,195)" stroke-opacity="0.35" stroke-width="2.2" fill="none"/></g><g clip-path="url(#cr12)"><path d="M87,14.0 Q71.7,10.0 53,23.0" stroke="rgb(195,195,195)" stroke-opacity="0.35" stroke-width="2.2" fill="none"/><path d="M87,21.166666666666668 Q71.7,17.166666666666668 53,30.166666666666668" stroke="rgb(195,195,195)" stroke-opacity="0.35" stroke-width="2.2" fill="none"/><path d="M87,28.333333333333336 Q71.7,24.333333333333336 53,37.333333333333336" stroke="rgb(195,195,195)" stroke-opacity="0.35" stroke-width="2.2" fill="none"/><path d="M87,35.5 Q71.7,31.5 53,44.5" stroke="rgb(195,195,195)" stroke-opacity="0.35" stroke-width="2.2" fill="none"/><path d="M87,42.66666666666667 Q71.7,38.66666666666667 53,51.66666666666667" stroke="rgb(195,195,195)" stroke-opacity="0.35" stroke-width="2.2" fill="none"/><path d="M87,49.833333333333336 Q71.7,45.833333333333336 53,58.833333333333336" stroke="rgb(195,195,195)" stroke-opacity="0.35" stroke-width="2.2" fill="none"/><path d="M87,57.0 Q71.7,53.0 53,66.0" stroke="rgb(195,195,195)" stroke-opacity="0.35" stroke-width="2.2" fill="none"/></g><path d="M46,17 C39.8,10 28.02,10 22.439999999999998,21 C17.48,31.76 14.07,52.56 15,64 C25.85,58 38.25,56 46,59 Z" fill="none" stroke="rgb(210,210,210)" stroke-width="1.6" stroke-opacity="0.6"/><path d="M55,17 C61.0,10 72.4,10 77.8,21 C82.6,32.9 85.9,54.9 85,67 C74.5,61 62.5,59 55,62 Z" fill="none" stroke="rgb(210,210,210)" stroke-width="1.6" stroke-opacity="0.6"/></g><g filter="url(#xf12_2)"><ellipse cx="59" cy="52" rx="8" ry="13" fill="rgb(185,185,185)" fill-opacity="0.8"/></g><g filter="url(#xf12_1)"><rect x="46" y="8" width="9" height="62" fill="rgb(190,190,190)" fill-opacity="1"/><ellipse cx="50" cy="80" rx="40" ry="14" fill="rgb(208,208,208)" fill-opacity="1"/></g><g filter="url(#xf12_1)"><ellipse cx="62" cy="73" rx="7" ry="6.5" fill="rgb(125,125,125)" fill-opacity="1"/></g><g filter="url(#xf12_1)"><rect x="0" y="20" width="4" height="72" fill="rgb(120,120,120)" fill-opacity="1"/><path d="M0,50 L8,50 C10,65 11,80 11,92 L0,92 Z" fill="rgb(25,25,25)" fill-opacity="1"/><path d="M100,45 L91,45 C89,60 89,75 89,92 L100,92 Z" fill="rgb(20,20,20)" fill-opacity="1"/></g><g filter="url(#xf12_0)"><rect x="0" y="91" width="100" height="2.5" fill="rgb(40,40,40)" fill-opacity="1"/><rect x="0" y="93.5" width="100" height="5" fill="rgb(248,248,248)" fill-opacity="1"/></g></g><rect x="0.5" y="0.5" width="99" height="99" fill="none" stroke="#222" stroke-width="1.1"/></svg><svg x="256.0" y="277.8" width="76.7" height="76.4" viewBox="0 0 100 100" preserveAspectRatio="none"><defs><filter id="xf13_0" x="-10%" y="-10%" width="120%" height="120%"><feGaussianBlur stdDeviation="0.7"/></filter><filter id="xf13_1" x="-10%" y="-10%" width="120%" height="120%"><feGaussianBlur stdDeviation="1.6"/></filter><filter id="xf13_2" x="-10%" y="-10%" width="120%" height="120%"><feGaussianBlur stdDeviation="2.8"/></filter><filter id="xf13_3" x="-10%" y="-10%" width="120%" height="120%"><feGaussianBlur stdDeviation="4.0"/></filter><filter id="xf13_gm" x="0" y="0" width="100%" height="100%" color-interpolation-filters="sRGB"><feComponentTransfer><feFuncR type="gamma" amplitude="1" exponent="1.3" offset="0"/><feFuncG type="gamma" amplitude="1" exponent="1.3" offset="0"/><feFuncB type="gamma" amplitude="1" exponent="1.3" offset="0"/></feComponentTransfer></filter></defs><g filter="url(#xf13_gm)"><rect x="-5" y="-5" width="110" height="110" fill="rgb(205,205,205)" fill-opacity="1"/><g filter="url(#xf13_1)"><path d="M0,0 L32,0 C30,8 20,13 0,14 Z" fill="rgb(4,4,4)" fill-opacity="1"/><path d="M100,0 L62,0 C66,8 80,12 100,13 Z" fill="rgb(4,4,4)" fill-opacity="1"/><rect x="32" y="0" width="30" height="8" fill="rgb(145,145,145)" fill-opacity="1"/><ellipse cx="8" cy="22" rx="10" ry="10" fill="rgb(180,180,180)" fill-opacity="1"/><ellipse cx="92" cy="22" rx="10" ry="10" fill="rgb(188,188,188)" fill-opacity="1"/></g><g filter="url(#xf13_1)"><defs><radialGradient id="gl13" cx="0.55" cy="0.4" r="0.62"><stop offset="0" stop-color="rgb(63,63,63)"/><stop offset="0.65" stop-color="rgb(72,72,72)"/><stop offset="1" stop-color="rgb(102,102,102)"/></radialGradient><radialGradient id="gr13" cx="0.55" cy="0.4" r="0.62"><stop offset="0" stop-color="rgb(63,63,63)"/><stop offset="0.65" stop-color="rgb(72,72,72)"/><stop offset="1" stop-color="rgb(102,102,102)"/></radialGradient><clipPath id="cl13"><path d="M45,17 C37.2,10 22.38,10 15.36,21 C9.120000000000001,32.9 4.83,54.9 6,67 C19.65,61 35.25,59 45,62 Z"/></clipPath><clipPath id="cr13"><path d="M55,17 C62.8,10 77.62,10 84.64,21 C90.88,32.14 95.17,53.34 94,65 C80.35,59 64.75,57 55,60 Z"/></clipPath></defs><path d="M45,17 C37.2,10 22.38,10 15.36,21 C9.120000000000001,32.9 4.83,54.9 6,67 C19.65,61 35.25,59 45,62 Z" fill="url(#gl13)"/><path d="M55,17 C62.8,10 77.62,10 84.64,21 C90.88,32.14 95.17,53.34 94,65 C80.35,59 64.75,57 55,60 Z" fill="url(#gr13)"/><g clip-path="url(#cl13)"><path d="M4,14.0 Q23.35,10.0 47,23.0" stroke="rgb(200,200,200)" stroke-opacity="0.3" stroke-width="2.2" fill="none"/><path d="M4,21.166666666666668 Q23.35,17.166666666666668 47,30.166666666666668" stroke="rgb(200,200,200)" stroke-opacity="0.3" stroke-width="2.2" fill="none"/><path d="M4,28.333333333333336 Q23.35,24.333333333333336 47,37.333333333333336" stroke="rgb(200,200,200)" stroke-opacity="0.3" stroke-width="2.2" fill="none"/><path d="M4,35.5 Q23.35,31.5 47,44.5" stroke="rgb(200,200,200)" stroke-opacity="0.3" stroke-width="2.2" fill="none"/><path d="M4,42.66666666666667 Q23.35,38.66666666666667 47,51.66666666666667" stroke="rgb(200,200,200)" stroke-opacity="0.3" stroke-width="2.2" fill="none"/><path d="M4,49.833333333333336 Q23.35,45.833333333333336 47,58.833333333333336" stroke="rgb(200,200,200)" stroke-opacity="0.3" stroke-width="2.2" fill="none"/><path d="M4,57.0 Q23.35,53.0 47,66.0" stroke="rgb(200,200,200)" stroke-opacity="0.3" stroke-width="2.2" fill="none"/></g><g clip-path="url(#cr13)"><path d="M96,14.0 Q76.65,10.0 53,23.0" stroke="rgb(200,200,200)" stroke-opacity="0.3" stroke-width="2.2" fill="none"/><path d="M96,20.833333333333332 Q76.65,16.833333333333332 53,29.833333333333332" stroke="rgb(200,200,200)" stroke-opacity="0.3" stroke-width="2.2" fill="none"/><path d="M96,27.666666666666664 Q76.65,23.666666666666664 53,36.666666666666664" stroke="rgb(200,200,200)" stroke-opacity="0.3" stroke-width="2.2" fill="none"/><path d="M96,34.5 Q76.65,30.5 53,43.5" stroke="rgb(200,200,200)" stroke-opacity="0.3" stroke-width="2.2" fill="none"/><path d="M96,41.33333333333333 Q76.65,37.33333333333333 53,50.33333333333333" stroke="rgb(200,200,200)" stroke-opacity="0.3" stroke-width="2.2" fill="none"/><path d="M96,48.166666666666664 Q76.65,44.166666666666664 53,57.166666666666664" stroke="rgb(200,200,200)" stroke-opacity="0.3" stroke-width="2.2" fill="none"/><path d="M96,55.0 Q76.65,51.0 53,64.0" stroke="rgb(200,200,200)" stroke-opacity="0.3" stroke-width="2.2" fill="none"/></g><path d="M45,17 C37.2,10 22.38,10 15.36,21 C9.120000000000001,32.9 4.83,54.9 6,67 C19.65,61 35.25,59 45,62 Z" fill="none" stroke="rgb(210,210,210)" stroke-width="1.6" stroke-opacity="0.6"/><path d="M55,17 C62.8,10 77.62,10 84.64,21 C90.88,32.14 95.17,53.34 94,65 C80.35,59 64.75,57 55,60 Z" fill="none" stroke="rgb(210,210,210)" stroke-width="1.6" stroke-opacity="0.6"/></g><g filter="url(#xf13_2)"><ellipse cx="58" cy="52" rx="7" ry="12" fill="rgb(200,200,200)" fill-opacity="0.8"/></g><g filter="url(#xf13_1)"><rect x="45" y="8" width="10" height="92" fill="rgb(215,215,215)" fill-opacity="1"/><path d="M0,66 C20,60 40,62 50,64 C60,62 80,60 100,64 L100,100 L0,100 Z" fill="rgb(236,236,236)" fill-opacity="1"/></g><g filter="url(#xf13_1)"><rect x="0" y="10" width="3.5" height="90" fill="rgb(140,140,140)" fill-opacity="1"/><rect x="96.5" y="10" width="3.5" height="90" fill="rgb(190,190,190)" fill-opacity="1"/></g><g filter="url(#xf13_0)"><path d="M96,6 L95,10" fill="none" stroke="rgb(240,240,240)" stroke-width="1.0" stroke-opacity="1" stroke-linecap="round"/></g></g><rect x="0.5" y="0.5" width="99" height="99" fill="none" stroke="#222" stroke-width="1.1"/></svg>
<rect x="369.5" y="22.5" width="297" height="295.8" fill="none" stroke="#7a7a7a" stroke-width="1"/>
<line x1="367.1" y1="304.50" x2="369.5" y2="304.50" stroke="#6a6a6a" stroke-width="0.8"/><text x="365.2" y="307.30" font-size="8.2" text-anchor="end" fill="#262626">0</text><line x1="367.1" y1="247.22" x2="369.5" y2="247.22" stroke="#6a6a6a" stroke-width="0.8"/><text x="365.2" y="250.02" font-size="8.2" text-anchor="end" fill="#262626">20</text><line x1="367.1" y1="189.94" x2="369.5" y2="189.94" stroke="#6a6a6a" stroke-width="0.8"/><text x="365.2" y="192.74" font-size="8.2" text-anchor="end" fill="#262626">40</text><line x1="367.1" y1="132.66" x2="369.5" y2="132.66" stroke="#6a6a6a" stroke-width="0.8"/><text x="365.2" y="135.46" font-size="8.2" text-anchor="end" fill="#262626">60</text><line x1="367.1" y1="75.38" x2="369.5" y2="75.38" stroke="#6a6a6a" stroke-width="0.8"/><text x="365.2" y="78.18" font-size="8.2" text-anchor="end" fill="#262626">80</text><text transform="translate(353.2,170.3) rotate(-90)" font-size="8.2" text-anchor="middle" fill="#262626">Age</text><line x1="406.6" y1="318.3" x2="406.6" y2="320.6" stroke="#6a6a6a" stroke-width="0.8"/><text transform="translate(406.60,339.18) rotate(-45)" font-size="8.2" text-anchor="middle" dy="2.6" fill="#262626" textLength="40.4" lengthAdjust="spacingAndGlyphs">Atelectasis</text><line x1="480.9" y1="318.3" x2="480.9" y2="320.6" stroke="#6a6a6a" stroke-width="0.8"/><text transform="translate(480.90,335.36) rotate(-45)" font-size="8.2" text-anchor="middle" dy="2.6" fill="#262626" textLength="29.6" lengthAdjust="spacingAndGlyphs">Effusion</text><line x1="555.3" y1="318.3" x2="555.3" y2="320.6" stroke="#6a6a6a" stroke-width="0.8"/><text transform="translate(555.30,338.68) rotate(-45)" font-size="8.2" text-anchor="middle" dy="2.6" fill="#262626" textLength="39.0" lengthAdjust="spacingAndGlyphs">Infiltration</text><line x1="629.6" y1="318.3" x2="629.6" y2="320.6" stroke="#6a6a6a" stroke-width="0.8"/><text transform="translate(629.60,337.91) rotate(-45)" font-size="8.2" text-anchor="middle" dy="2.6" fill="#262626" textLength="36.8" lengthAdjust="spacingAndGlyphs">No Finding</text><path d="M406.30,41.00 C406.27,43.00 406.22,49.72 406.10,53.00 C405.98,56.28 405.90,58.15 405.60,60.70 C405.30,63.25 404.78,65.77 404.30,68.30 C403.82,70.83 403.30,73.37 402.70,75.90 C402.10,78.43 401.37,80.97 400.70,83.50 C400.03,86.03 399.60,88.42 398.70,91.10 C397.80,93.78 396.50,96.92 395.30,99.60 C394.10,102.28 392.80,104.68 391.50,107.20 C390.20,109.72 388.80,112.18 387.50,114.70 C386.20,117.22 384.80,119.77 383.70,122.30 C382.60,124.83 381.75,127.37 380.90,129.90 C380.05,132.43 379.23,134.97 378.60,137.50 C377.97,140.03 377.38,142.93 377.10,145.10 C376.82,147.27 376.80,148.75 376.90,150.50 C377.00,152.25 377.30,153.82 377.70,155.60 C378.10,157.38 378.53,159.02 379.30,161.20 C380.07,163.38 381.22,166.18 382.30,168.70 C383.38,171.22 384.65,173.77 385.80,176.30 C386.95,178.83 388.32,181.55 389.20,183.90 C390.08,186.25 390.55,187.87 391.10,190.40 C391.65,192.93 392.02,196.23 392.50,199.10 C392.98,201.97 393.50,204.92 394.00,207.60 C394.50,210.28 394.98,212.68 395.50,215.20 C396.02,217.72 396.63,220.18 397.10,222.70 C397.57,225.22 397.85,227.77 398.30,230.30 C398.75,232.83 399.33,235.37 399.80,237.90 C400.27,240.43 400.75,242.98 401.10,245.50 C401.45,248.02 401.63,250.65 401.90,253.00 C402.17,255.35 402.42,257.23 402.70,259.60 C402.98,261.97 403.33,264.68 403.60,267.20 C403.87,269.72 404.07,272.18 404.30,274.70 C404.53,277.22 404.78,279.77 405.00,282.30 C405.22,284.83 405.38,287.12 405.60,289.90 C405.82,292.68 406.18,297.48 406.30,299.00" fill="none" stroke="#484848" stroke-width="0.9"/><path d="M406.30,41.00 C406.35,43.00 406.43,49.72 406.60,53.00 C406.77,56.28 406.97,58.15 407.30,60.70 C407.63,63.25 408.08,65.77 408.60,68.30 C409.12,70.83 409.73,73.37 410.40,75.90 C411.07,78.43 411.90,80.97 412.60,83.50 C413.30,86.03 413.70,88.42 414.60,91.10 C415.50,93.78 416.68,96.92 418.00,99.60 C419.32,102.28 421.03,104.68 422.50,107.20 C423.97,109.72 425.40,112.18 426.80,114.70 C428.20,117.22 429.80,120.20 430.90,122.30 C432.00,124.40 432.65,124.77 433.40,127.30 C434.15,129.83 434.92,134.53 435.40,137.50 C435.88,140.47 436.22,142.55 436.30,145.10 C436.38,147.65 436.30,150.12 435.90,152.80 C435.50,155.48 434.73,158.55 433.90,161.20 C433.07,163.85 432.03,166.18 430.90,168.70 C429.77,171.22 428.28,174.20 427.10,176.30 C425.92,178.40 424.62,180.03 423.80,181.30 C422.98,182.57 422.97,182.20 422.20,183.90 C421.43,185.60 420.07,188.97 419.20,191.50 C418.33,194.03 417.50,196.42 417.00,199.10 C416.50,201.78 416.42,204.92 416.20,207.60 C415.98,210.28 415.83,212.68 415.70,215.20 C415.57,217.72 415.58,220.18 415.40,222.70 C415.22,225.22 414.88,227.77 414.60,230.30 C414.32,232.83 414.05,235.37 413.70,237.90 C413.35,240.43 412.92,243.15 412.50,245.50 C412.08,247.85 411.68,249.65 411.20,252.00 C410.72,254.35 410.03,257.07 409.60,259.60 C409.17,262.13 408.85,264.68 408.60,267.20 C408.35,269.72 408.25,272.18 408.10,274.70 C407.95,277.22 407.82,279.77 407.70,282.30 C407.58,284.83 407.63,287.12 407.40,289.90 C407.17,292.68 406.48,297.48 406.30,299.00" fill="none" stroke="#2ca02c" stroke-width="1.0"/><line x1="406.30" y1="129.90" x2="380.90" y2="129.90" stroke="#484848" stroke-width="0.9" stroke-dasharray="1.9,0.9"/><line x1="406.30" y1="155.60" x2="377.70" y2="155.60" stroke="#484848" stroke-width="0.9" stroke-dasharray="1.9,0.9"/><line x1="406.30" y1="190.40" x2="391.10" y2="190.40" stroke="#484848" stroke-width="0.9" stroke-dasharray="1.9,0.9"/><line x1="406.30" y1="127.30" x2="433.40" y2="127.30" stroke="#2ca02c" stroke-width="0.9" stroke-dasharray="1.9,0.9"/><line x1="406.30" y1="152.80" x2="435.90" y2="152.80" stroke="#2ca02c" stroke-width="0.9" stroke-dasharray="1.9,0.9"/><line x1="406.30" y1="181.30" x2="423.80" y2="181.30" stroke="#2ca02c" stroke-width="0.9" stroke-dasharray="1.9,0.9"/><line x1="406.30" y1="41.00" x2="406.30" y2="299.00" stroke="#2ca02c" stroke-width="1.1"/><path d="M480.50,43.80 C480.37,45.37 479.95,50.38 479.70,53.20 C479.45,56.02 479.30,58.18 479.00,60.70 C478.70,63.22 478.33,65.77 477.90,68.30 C477.47,70.83 476.90,73.37 476.40,75.90 C475.90,78.43 475.48,80.90 474.90,83.50 C474.32,86.10 473.62,88.82 472.90,91.50 C472.18,94.18 471.48,96.98 470.60,99.60 C469.72,102.22 468.60,104.68 467.60,107.20 C466.60,109.72 465.62,112.18 464.60,114.70 C463.58,117.22 462.52,119.77 461.50,122.30 C460.48,124.83 459.47,127.37 458.50,129.90 C457.53,132.43 456.47,134.97 455.70,137.50 C454.93,140.03 454.37,142.42 453.90,145.10 C453.43,147.78 452.97,150.92 452.90,153.60 C452.83,156.28 453.07,158.68 453.50,161.20 C453.93,163.72 454.67,166.18 455.50,168.70 C456.33,171.22 457.37,173.77 458.50,176.30 C459.63,178.83 461.03,181.12 462.30,183.90 C463.57,186.68 465.23,190.32 466.10,193.00 C466.97,195.68 467.20,197.57 467.50,200.00 C467.80,202.43 467.80,205.07 467.90,207.60 C468.00,210.13 467.97,212.68 468.10,215.20 C468.23,217.72 468.35,220.18 468.70,222.70 C469.05,225.22 469.70,227.77 470.20,230.30 C470.70,232.83 471.17,235.37 471.70,237.90 C472.23,240.43 472.78,243.07 473.40,245.50 C474.02,247.93 474.80,250.15 475.40,252.50 C476.00,254.85 476.55,257.15 477.00,259.60 C477.45,262.05 477.80,264.68 478.10,267.20 C478.40,269.72 478.55,272.18 478.80,274.70 C479.05,277.22 479.32,279.77 479.60,282.30 C479.88,284.83 480.35,288.63 480.50,289.90" fill="none" stroke="#484848" stroke-width="0.9"/><path d="M480.50,43.80 C480.63,45.37 481.05,50.38 481.30,53.20 C481.55,56.02 481.70,58.18 482.00,60.70 C482.30,63.22 482.67,65.77 483.10,68.30 C483.53,70.83 484.02,73.37 484.60,75.90 C485.18,78.43 485.88,80.90 486.60,83.50 C487.32,86.10 488.02,88.82 488.90,91.50 C489.78,94.18 490.72,96.98 491.90,99.60 C493.08,102.22 494.68,104.68 496.00,107.20 C497.32,109.72 498.62,112.18 499.80,114.70 C500.98,117.22 502.18,120.20 503.10,122.30 C504.02,124.40 504.48,125.18 505.30,127.30 C506.12,129.42 507.37,132.72 508.00,135.00 C508.63,137.28 508.98,139.17 509.10,141.00 C509.22,142.83 509.00,144.50 508.70,146.00 C508.40,147.50 507.88,148.63 507.30,150.00 C506.72,151.37 506.00,152.33 505.20,154.20 C504.40,156.07 503.45,158.78 502.50,161.20 C501.55,163.62 500.38,166.18 499.50,168.70 C498.62,171.22 497.83,173.77 497.20,176.30 C496.57,178.83 496.13,181.37 495.70,183.90 C495.27,186.43 494.90,189.05 494.60,191.50 C494.30,193.95 493.92,195.92 493.90,198.60 C493.88,201.28 494.33,204.83 494.50,207.60 C494.67,210.37 494.90,212.68 494.90,215.20 C494.90,217.72 494.83,220.18 494.50,222.70 C494.17,225.22 493.48,227.77 492.90,230.30 C492.32,232.83 491.60,235.37 491.00,237.90 C490.40,240.43 489.82,243.07 489.30,245.50 C488.78,247.93 488.35,250.15 487.90,252.50 C487.45,254.85 487.02,257.15 486.60,259.60 C486.18,262.05 485.78,264.68 485.40,267.20 C485.02,269.72 484.73,272.18 484.30,274.70 C483.87,277.22 483.20,280.25 482.80,282.30 C482.40,284.35 482.28,285.73 481.90,287.00 C481.52,288.27 480.73,289.42 480.50,289.90" fill="none" stroke="#2ca02c" stroke-width="1.0"/><line x1="480.50" y1="132.90" x2="457.39" y2="132.90" stroke="#484848" stroke-width="0.9" stroke-dasharray="1.9,0.9"/><line x1="480.50" y1="158.40" x2="453.28" y2="158.40" stroke="#484848" stroke-width="0.9" stroke-dasharray="1.9,0.9"/><line x1="480.50" y1="193.00" x2="466.10" y2="193.00" stroke="#484848" stroke-width="0.9" stroke-dasharray="1.9,0.9"/><line x1="480.50" y1="127.30" x2="505.30" y2="127.30" stroke="#2ca02c" stroke-width="0.9" stroke-dasharray="1.9,0.9"/><line x1="480.50" y1="154.30" x2="505.16" y2="154.30" stroke="#2ca02c" stroke-width="0.9" stroke-dasharray="1.9,0.9"/><line x1="480.50" y1="198.60" x2="493.90" y2="198.60" stroke="#2ca02c" stroke-width="0.9" stroke-dasharray="1.9,0.9"/><line x1="480.50" y1="43.80" x2="480.50" y2="289.90" stroke="#2ca02c" stroke-width="1.1"/><path d="M555.10,43.80 C555.07,45.37 554.98,50.38 554.90,53.20 C554.82,56.02 554.82,58.18 554.60,60.70 C554.38,63.22 554.02,65.77 553.60,68.30 C553.18,70.83 552.63,73.37 552.10,75.90 C551.57,78.43 550.92,80.90 550.40,83.50 C549.88,86.10 549.58,88.82 549.00,91.50 C548.42,94.18 547.70,96.98 546.90,99.60 C546.10,102.22 545.10,104.68 544.20,107.20 C543.30,109.72 542.38,112.18 541.50,114.70 C540.62,117.22 539.72,119.77 538.90,122.30 C538.08,124.83 537.43,127.22 536.60,129.90 C535.77,132.58 534.72,135.87 533.90,138.40 C533.08,140.93 532.28,142.57 531.70,145.10 C531.12,147.63 530.53,150.92 530.40,153.60 C530.27,156.28 530.55,158.47 530.90,161.20 C531.25,163.93 532.00,167.48 532.50,170.00 C533.00,172.52 533.47,173.98 533.90,176.30 C534.33,178.62 534.65,181.37 535.10,183.90 C535.55,186.43 536.17,188.97 536.60,191.50 C537.03,194.03 537.45,196.47 537.70,199.10 C537.95,201.73 537.90,204.62 538.10,207.30 C538.30,209.98 538.52,212.63 538.90,215.20 C539.28,217.77 539.90,220.18 540.40,222.70 C540.90,225.22 541.35,227.77 541.90,230.30 C542.45,232.83 543.07,235.37 543.70,237.90 C544.33,240.43 544.97,242.90 545.70,245.50 C546.43,248.10 547.42,250.82 548.10,253.50 C548.78,256.18 549.32,258.98 549.80,261.60 C550.28,264.22 550.65,266.68 551.00,269.20 C551.35,271.72 551.60,274.18 551.90,276.70 C552.20,279.22 552.47,281.77 552.80,284.30 C553.13,286.83 553.60,289.37 553.90,291.90 C554.20,294.43 554.40,297.48 554.60,299.50 C554.80,301.52 555.02,303.25 555.10,304.00" fill="none" stroke="#484848" stroke-width="0.9"/><path d="M555.10,43.80 C555.13,45.37 555.20,50.38 555.30,53.20 C555.40,56.02 555.50,58.18 555.70,60.70 C555.90,63.22 556.17,65.77 556.50,68.30 C556.83,70.83 557.25,73.37 557.70,75.90 C558.15,78.43 558.67,80.90 559.20,83.50 C559.73,86.10 560.32,88.82 560.90,91.50 C561.48,94.18 562.00,96.98 562.70,99.60 C563.40,102.22 564.27,104.68 565.10,107.20 C565.93,109.72 566.83,112.18 567.70,114.70 C568.57,117.22 569.42,119.77 570.30,122.30 C571.18,124.83 572.08,127.22 573.00,129.90 C573.92,132.58 575.07,135.87 575.80,138.40 C576.53,140.93 577.02,142.57 577.40,145.10 C577.78,147.63 578.08,150.92 578.10,153.60 C578.12,156.28 577.85,158.27 577.50,161.20 C577.15,164.13 576.45,168.68 576.00,171.20 C575.55,173.72 575.30,174.18 574.80,176.30 C574.30,178.42 573.55,181.37 573.00,183.90 C572.45,186.43 571.93,188.97 571.50,191.50 C571.07,194.03 570.53,196.42 570.40,199.10 C570.27,201.78 570.57,204.80 570.70,207.60 C570.83,210.40 571.12,213.38 571.20,215.90 C571.28,218.42 571.28,220.30 571.20,222.70 C571.12,225.10 570.95,227.77 570.70,230.30 C570.45,232.83 570.12,235.37 569.70,237.90 C569.28,240.43 568.83,242.90 568.20,245.50 C567.57,248.10 566.77,250.82 565.90,253.50 C565.03,256.18 563.87,258.98 563.00,261.60 C562.13,264.22 561.33,266.68 560.70,269.20 C560.07,271.72 559.65,274.18 559.20,276.70 C558.75,279.22 558.38,281.77 558.00,284.30 C557.62,286.83 557.25,289.37 556.90,291.90 C556.55,294.43 556.20,297.48 555.90,299.50 C555.60,301.52 555.23,303.25 555.10,304.00" fill="none" stroke="#2ca02c" stroke-width="1.0"/><line x1="555.10" y1="138.30" x2="533.93" y2="138.30" stroke="#484848" stroke-width="0.9" stroke-dasharray="1.9,0.9"/><line x1="555.10" y1="170.00" x2="532.50" y2="170.00" stroke="#484848" stroke-width="0.9" stroke-dasharray="1.9,0.9"/><line x1="555.10" y1="207.30" x2="538.10" y2="207.30" stroke="#484848" stroke-width="0.9" stroke-dasharray="1.9,0.9"/><line x1="555.10" y1="138.40" x2="575.80" y2="138.40" stroke="#2ca02c" stroke-width="0.9" stroke-dasharray="1.9,0.9"/><line x1="555.10" y1="171.20" x2="576.00" y2="171.20" stroke="#2ca02c" stroke-width="0.9" stroke-dasharray="1.9,0.9"/><line x1="555.10" y1="215.90" x2="571.20" y2="215.90" stroke="#2ca02c" stroke-width="0.9" stroke-dasharray="1.9,0.9"/><line x1="555.10" y1="43.80" x2="555.10" y2="304.00" stroke="#2ca02c" stroke-width="1.1"/><path d="M629.40,35.50 C629.38,37.25 629.36,42.75 629.30,46.00 C629.24,49.25 629.15,52.50 629.05,55.00 C628.95,57.50 628.89,58.78 628.70,61.00 C628.51,63.22 628.22,65.82 627.90,68.30 C627.58,70.78 627.18,73.37 626.80,75.90 C626.42,78.43 626.03,80.90 625.60,83.50 C625.17,86.10 624.65,88.82 624.20,91.50 C623.75,94.18 623.37,96.98 622.90,99.60 C622.43,102.22 622.02,104.68 621.40,107.20 C620.78,109.72 620.02,112.18 619.20,114.70 C618.38,117.22 617.40,119.77 616.50,122.30 C615.60,124.83 614.72,127.37 613.80,129.90 C612.88,132.43 611.95,135.10 611.00,137.50 C610.05,139.90 609.03,141.62 608.10,144.30 C607.17,146.98 605.97,150.78 605.40,153.60 C604.83,156.42 604.75,158.68 604.70,161.20 C604.65,163.72 604.90,166.68 605.10,168.70 C605.30,170.72 605.57,170.77 605.90,173.30 C606.23,175.83 606.72,180.87 607.10,183.90 C607.48,186.93 607.78,188.88 608.20,191.50 C608.62,194.12 608.92,196.47 609.60,199.60 C610.28,202.73 611.65,207.70 612.30,210.30 C612.95,212.90 613.05,213.13 613.50,215.20 C613.95,217.27 614.50,220.18 615.00,222.70 C615.50,225.22 616.00,227.77 616.50,230.30 C617.00,232.83 617.45,235.37 618.00,237.90 C618.55,240.43 619.17,243.07 619.80,245.50 C620.43,247.93 621.17,250.15 621.80,252.50 C622.43,254.85 623.03,257.15 623.60,259.60 C624.17,262.05 624.77,264.68 625.20,267.20 C625.63,269.72 625.88,272.18 626.20,274.70 C626.52,277.22 626.82,279.77 627.10,282.30 C627.38,284.83 627.65,287.37 627.90,289.90 C628.15,292.43 628.35,295.42 628.60,297.50 C628.85,299.58 629.27,301.58 629.40,302.40" fill="none" stroke="#484848" stroke-width="0.9"/><path d="M629.40,35.50 C629.42,37.25 629.44,42.75 629.50,46.00 C629.56,49.25 629.65,52.50 629.75,55.00 C629.85,57.50 629.91,58.78 630.10,61.00 C630.29,63.22 630.52,65.82 630.90,68.30 C631.28,70.78 631.90,73.37 632.40,75.90 C632.90,78.43 633.33,80.90 633.90,83.50 C634.47,86.10 635.22,88.82 635.80,91.50 C636.38,94.18 636.82,96.98 637.40,99.60 C637.98,102.22 638.62,104.68 639.30,107.20 C639.98,109.72 640.70,112.18 641.50,114.70 C642.30,117.22 643.22,119.77 644.10,122.30 C644.98,124.83 645.85,127.70 646.80,129.90 C647.75,132.10 648.98,133.82 649.80,135.50 C650.62,137.18 651.13,138.33 651.70,140.00 C652.27,141.67 653.02,143.23 653.20,145.50 C653.38,147.77 653.05,150.98 652.80,153.60 C652.55,156.22 652.02,158.92 651.70,161.20 C651.38,163.48 651.28,164.78 650.90,167.30 C650.52,169.82 649.90,173.53 649.40,176.30 C648.90,179.07 648.40,181.37 647.90,183.90 C647.40,186.43 646.78,188.88 646.40,191.50 C646.02,194.12 645.73,196.47 645.60,199.60 C645.47,202.73 645.65,207.70 645.60,210.30 C645.55,212.90 645.50,213.13 645.30,215.20 C645.10,217.27 644.72,220.18 644.40,222.70 C644.08,225.22 643.75,227.77 643.40,230.30 C643.05,232.83 642.73,235.37 642.30,237.90 C641.87,240.43 641.38,243.07 640.80,245.50 C640.22,247.93 639.47,250.15 638.80,252.50 C638.13,254.85 637.43,257.15 636.80,259.60 C636.17,262.05 635.50,264.68 635.00,267.20 C634.50,269.72 634.18,272.18 633.80,274.70 C633.42,277.22 633.05,279.77 632.70,282.30 C632.35,284.83 632.07,287.37 631.70,289.90 C631.33,292.43 630.88,295.42 630.50,297.50 C630.12,299.58 629.58,301.58 629.40,302.40" fill="none" stroke="#2ca02c" stroke-width="1.0"/><line x1="629.40" y1="144.30" x2="608.10" y2="144.30" stroke="#484848" stroke-width="0.9" stroke-dasharray="1.9,0.9"/><line x1="629.40" y1="173.30" x2="605.90" y2="173.30" stroke="#484848" stroke-width="0.9" stroke-dasharray="1.9,0.9"/><line x1="629.40" y1="210.30" x2="612.30" y2="210.30" stroke="#484848" stroke-width="0.9" stroke-dasharray="1.9,0.9"/><line x1="629.40" y1="135.50" x2="649.80" y2="135.50" stroke="#2ca02c" stroke-width="0.9" stroke-dasharray="1.9,0.9"/><line x1="629.40" y1="167.20" x2="650.91" y2="167.20" stroke="#2ca02c" stroke-width="0.9" stroke-dasharray="1.9,0.9"/><line x1="629.40" y1="210.30" x2="645.60" y2="210.30" stroke="#2ca02c" stroke-width="0.9" stroke-dasharray="1.9,0.9"/><line x1="629.40" y1="35.50" x2="629.40" y2="302.40" stroke="#2ca02c" stroke-width="1.1"/>
<rect x="609.4" y="25.8" width="53.8" height="35.5" rx="1.5" fill="#fff" fill-opacity="0.8" stroke="#d8d8d8" stroke-width="0.7"/>
<text x="636.2" y="34.6" font-size="8.2" text-anchor="middle" fill="#262626">Sex</text>
<rect x="612.3" y="40.5" width="15.3" height="5.1" fill="none" stroke="#555" stroke-width="0.8"/>
<rect x="612.3" y="51.6" width="15.3" height="5.1" fill="none" stroke="#2ca02c" stroke-width="1"/>
<text x="634" y="45.9" font-size="8.2" fill="#262626" textLength="26.3" lengthAdjust="spacingAndGlyphs">Female</text>
<text x="634" y="57.0" font-size="8.2" fill="#262626" textLength="16.8" lengthAdjust="spacingAndGlyphs">Male</text>
</svg>
</body></html>
